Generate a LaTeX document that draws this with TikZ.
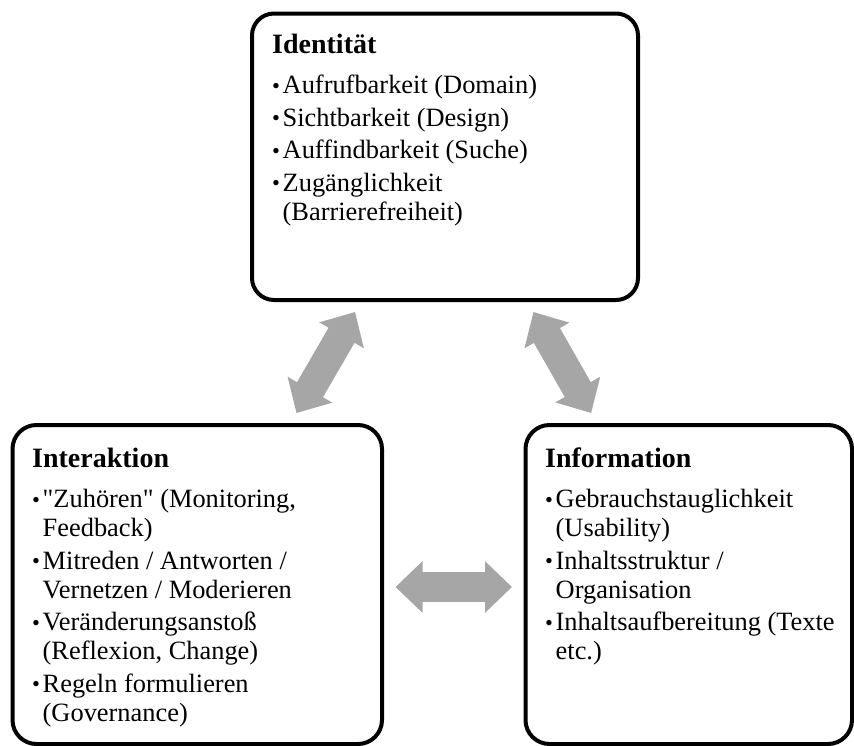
\documentclass[tikz,border=0pt]{standalone}
\usepackage{fontspec}
\setmainfont{Liberation Serif}
\usepackage{tikz}
\usetikzlibrary{arrows.meta}

\definecolor{arrowgray}{RGB}{166,166,166}

\newcommand\cardtext[1]{\parbox[t]{400pt}{\setlength\parskip{3.5pt}\fontsize{26.4}{29}\selectfont #1}}
\newcommand\cardtitle[1]{{\fontsize{28}{29}\selectfont\bfseries\rule{0pt}{22pt}#1\par}\vspace{8pt}}
\newcommand\cardpoint[1]{\par\hangindent=10.5pt\hangafter=1\noindent\makebox[10.5pt][l]{\raisebox{0.5pt}{\scalebox{0.85}{\textbullet}}}#1\par}

\begin{document}
\begin{tikzpicture}[x=1pt,y=-1pt]
				\tikzset{card/.style={shape = rectangle, draw, line width = 4pt, rounded corners = 24pt}}
				\tikzset{cardlabel/.style={anchor = base west, inner sep = 0pt}}
				\tikzset{link/.style={draw = arrowgray, line width = 30pt,
						{Triangle[width=50pt,length=27pt]}-{Triangle[width=50pt,length=27pt]},
						shorten <=11.5pt, shorten >=11.5pt}}
				\useasboundingbox (0,0) rectangle (854,745);
				%boxes
				\node[card, rounded corners = 22pt, minimum width = 386pt, minimum height = 286.5pt] (ident) at (445, 156.75) {};
				\node[card, minimum width = 369.5pt, minimum height = 319pt] (inter) at (197.25, 584.5) {};
				\node[card, minimum width = 326.5pt, minimum height = 319pt] (info) at (688.75, 584.5) {};
				%texts
				\node[cardlabel] (identtext) at (272, 53) {\cardtext{\cardtitle{Identität}
						\cardpoint{Aufrufbarkeit (Domain)}
						\cardpoint{Sichtbarkeit (Design)}
						\cardpoint{Auffindbarkeit (Suche)}
						\cardpoint{Zugänglichkeit\newline (Barrierefreiheit)}}};
				\node[cardlabel] (intertext) at (32, 467) {\cardtext{\cardtitle{Interaktion}
						\cardpoint{\textquotedbl Zuhören\textquotedbl{} (Monitoring,\newline Feedback)}
						\cardpoint{Mitreden / Antworten /\newline Vernetzen / Moderieren}
						\cardpoint{Veränderungsanstoß\newline (Reflexion, Change)}
						\cardpoint{Regeln formulieren\newline (Governance)}}};
				\node[cardlabel] (infotext) at (545, 467) {\cardtext{\cardtitle{Information}
						\cardpoint{Gebrauchstauglichkeit\newline (Usability)}
						\cardpoint{Inhaltsstruktur /\newline Organisation}
						\cardpoint{Inhaltsaufbereitung (Texte\newline etc.)}}};
				%arrows
				\path (ident) edge[link] (inter);
				\path (ident) edge[link] (info);
				\path ([yshift=-2.5pt]inter.east) edge[link] ([yshift=-2.5pt]info.west);
\end{tikzpicture}
\end{document}
